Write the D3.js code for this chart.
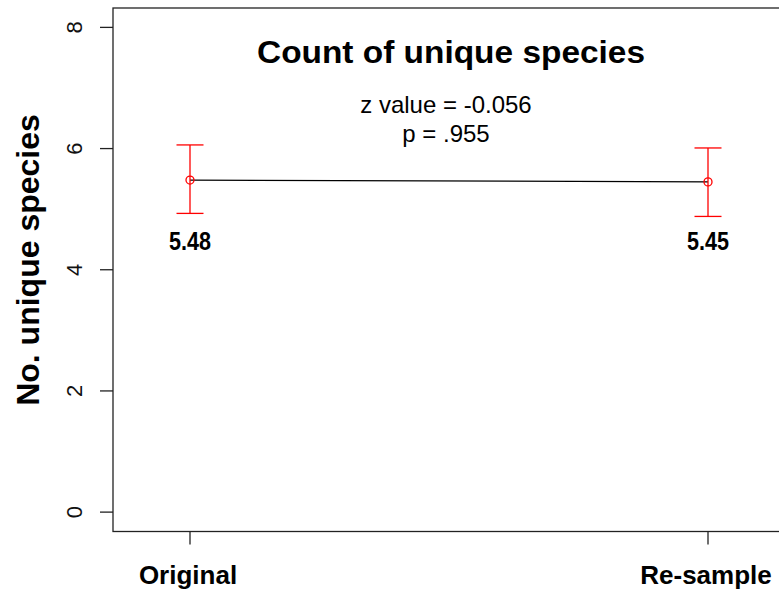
<!DOCTYPE html>
<html>
<head>
<meta charset="utf-8">
<script src="https://cdn.jsdelivr.net/npm/d3@7"></script>
<style>
  html, body { margin: 0; padding: 0; background: #fff; }
  svg { display: block; font-family: "Liberation Sans", Arial, sans-serif; }
</style>
</head>
<body>
<svg id="chart" width="779" height="596"></svg>
<script>
// Mean number of unique species per group, with error-bar bounds
const groups = ["Original", "Re-sample"];
const means = [5.48, 5.45];
const upper = [6.06, 6.01];
const lower = [4.93, 4.88];
const meanLabels = ["5.48", "5.45"];
const yTicks = [0, 2, 4, 6, 8];
const titleText = "Count of unique species";
const statLines = ["z value = -0.056", "p = .955"];
const yTitle = "No. unique species";
const labelLevel = 4.5;   // height (in data units) where mean labels sit

const svg = d3.select("#chart");

const box = { left: 113, top: 8, right: 785, bottom: 531.5 };

const x = d3.scalePoint().domain(groups).range([190, 708]);
const y = d3.scaleLinear().domain([-0.32, 8.32]).range([box.bottom, box.top]);

// plot frame (right side runs past the canvas edge)
svg.append("rect")
  .attr("x", box.left).attr("y", box.top)
  .attr("width", box.right - box.left).attr("height", box.bottom - box.top)
  .attr("fill", "none").attr("stroke", "#222").attr("stroke-width", 1.3);

// y axis ticks
const yAxis = svg.append("g");
yAxis.selectAll("line").data(yTicks).join("line")
  .attr("x1", 100).attr("x2", box.left)
  .attr("y1", d => y(d)).attr("y2", d => y(d))
  .attr("stroke", "#222").attr("stroke-width", 1.3);
yAxis.selectAll("text").data(yTicks).join("text")
  .attr("transform", d => `translate(82,${y(d)}) rotate(-90)`)
  .attr("text-anchor", "middle")
  .attr("font-size", 22)
  .attr("fill", "#111")
  .text(d => d);

// x axis ticks and group names
const xAxis = svg.append("g");
xAxis.selectAll("line").data(groups).join("line")
  .attr("x1", d => x(d)).attr("x2", d => x(d))
  .attr("y1", box.bottom).attr("y2", box.bottom + 13)
  .attr("stroke", "#222").attr("stroke-width", 1.3);
xAxis.selectAll("text").data(groups).join("text")
  .attr("x", d => x(d) - 2).attr("y", 584)
  .attr("text-anchor", "middle")
  .attr("font-size", 26).attr("font-weight", "bold")
  .attr("fill", "#000")
  .text(d => d);

// y axis title
svg.append("text")
  .attr("transform", "translate(39,260) rotate(-90)")
  .attr("text-anchor", "middle")
  .attr("font-size", 32).attr("font-weight", "bold")
  .attr("fill", "#000")
  .text(yTitle);

// title and test statistics
const cx = (box.left + box.right) / 2;
svg.append("text")
  .attr("x", cx + 2).attr("y", 63)
  .attr("text-anchor", "middle")
  .attr("font-size", 32).attr("font-weight", "bold")
  .attr("textLength", 388).attr("lengthAdjust", "spacingAndGlyphs")
  .attr("fill", "#000")
  .text(titleText);
svg.selectAll("text.stat").data(statLines).join("text")
  .attr("class", "stat")
  .attr("x", cx - 3).attr("y", (d, i) => 113 + i * 29)
  .attr("text-anchor", "middle")
  .attr("font-size", 24)
  .attr("fill", "#000")
  .text(d => d);

const pts = groups.map((g, i) => ({ g, m: means[i], hi: upper[i], lo: lower[i], lab: meanLabels[i] }));

// connecting line between means
svg.append("path")
  .datum(pts)
  .attr("d", d3.line().x(d => x(d.g)).y(d => y(d.m)))
  .attr("fill", "none").attr("stroke", "#000").attr("stroke-width", 1.2);

// error bars
const eb = svg.append("g").attr("stroke", "#ff0000").attr("stroke-width", 1.3).attr("fill", "none");
eb.selectAll("line.v").data(pts).join("line").attr("class", "v")
  .attr("x1", d => x(d.g)).attr("x2", d => x(d.g))
  .attr("y1", d => y(d.hi)).attr("y2", d => y(d.lo));
eb.selectAll("line.t").data(pts).join("line").attr("class", "t")
  .attr("x1", d => x(d.g) - 13.5).attr("x2", d => x(d.g) + 13.5)
  .attr("y1", d => y(d.hi)).attr("y2", d => y(d.hi));
eb.selectAll("line.b").data(pts).join("line").attr("class", "b")
  .attr("x1", d => x(d.g) - 13.5).attr("x2", d => x(d.g) + 13.5)
  .attr("y1", d => y(d.lo)).attr("y2", d => y(d.lo));
eb.selectAll("circle").data(pts).join("circle")
  .attr("cx", d => x(d.g)).attr("cy", d => y(d.m)).attr("r", 4);

// mean labels
svg.selectAll("text.mean").data(pts).join("text")
  .attr("class", "mean")
  .attr("x", d => x(d.g)).attr("y", y(labelLevel) + 11)
  .attr("text-anchor", "middle")
  .attr("font-family", "'Liberation Sans Narrow', 'Liberation Sans', Arial, sans-serif")
  .attr("font-size", 26).attr("font-weight", "bold")
  .attr("textLength", 42).attr("lengthAdjust", "spacingAndGlyphs")
  .attr("fill", "#000")
  .text(d => d.lab);
</script>
</body>
</html>
